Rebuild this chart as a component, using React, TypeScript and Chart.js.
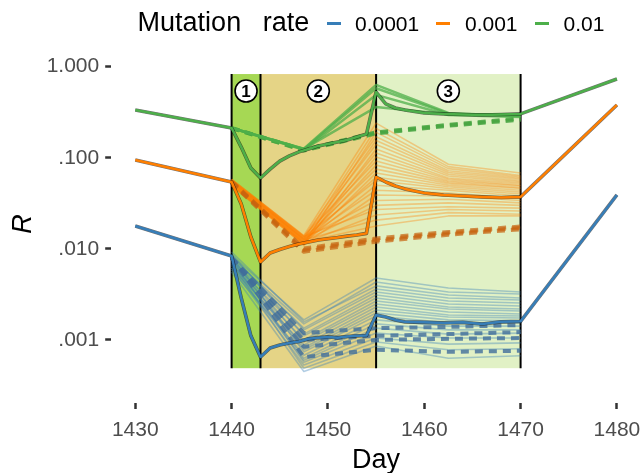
import React, { useEffect, useRef } from 'react';
import { Chart, registerables } from 'chart.js';
Chart.register(...registerables);

// ---------- data ----------
const MAIN_DAYS = [1430, 1440, 1441, 1442, 1443, 1444, 1445, 1446, 1447, 1448, 1449, 1450, 1451, 1452, 1453, 1454, 1455, 1456, 1457, 1458, 1459, 1460, 1462, 1464, 1466, 1468, 1470, 1480];
const MAIN_BLUE = [0.0178, 0.00836, 0.00289, 0.00111, 0.00065, 0.000816, 0.000881, 0.000927, 0.000963, 0.00103, 0.00106, 0.00108, 0.00106, 0.00109, 0.00111, 0.00112, 0.00188, 0.00179, 0.00166, 0.00158, 0.00157, 0.00156, 0.00154, 0.00156, 0.0015, 0.00158, 0.0016, 0.0391];
const MAIN_ORANGE = [0.0946, 0.0542, 0.0311, 0.0135, 0.00718, 0.009, 0.00985, 0.0106, 0.0113, 0.0119, 0.0125, 0.0129, 0.0133, 0.0138, 0.0142, 0.0148, 0.0615, 0.0542, 0.049, 0.0455, 0.0432, 0.0411, 0.0391, 0.0381, 0.0372, 0.0367, 0.0372, 0.38];
const MAIN_GREEN = [0.335, 0.212, 0.131, 0.077, 0.06, 0.075, 0.092, 0.105, 0.116, 0.125, 0.135, 0.142, 0.149, 0.157, 0.169, 0.182, 0.527, 0.39, 0.352, 0.335, 0.322, 0.31, 0.303, 0.299, 0.295, 0.299, 0.303, 0.733];

const TRAJ_DAYS = [1440, 1447.5, 1455, 1462.5, 1470];

const FAINT_BLUE = [
  [0.00857, 0.00166, 0.00479, 0.00372, 0.00336],
  [0.00795, 0.0015, 0.00433, 0.00336, 0.0032],
  [0.00925, 0.00158, 0.00392, 0.00312, 0.00289],
  [0.00755, 0.00135, 0.00363, 0.00289, 0.00275],
  [0.00836, 0.00129, 0.00336, 0.00268, 0.00255],
  [0.00718, 0.00116, 0.00312, 0.00248, 0.00236],
  [0.00879, 0.00111, 0.00289, 0.0023, 0.00219],
  [0.00665, 0.001, 0.00268, 0.00219, 0.00208],
  [0.00795, 0.00095, 0.00248, 0.00203, 0.00193],
  [0.00617, 0.00088, 0.0023, 0.00188, 0.00183],
  [0.00755, 0.00082, 0.00213, 0.00179, 0.00174],
  [0.00683, 0.00078, 0.00198, 0.00166, 0.00162],
  [0.00815, 0.00074, 0.00183, 0.00154, 0.00154],
  [0.00587, 0.00068, 0.00166, 0.00142, 0.00142],
  [0.00718, 0.00063, 0.0015, 0.00129, 0.00129],
  [0.00649, 0.0006, 0.00135, 0.00116, 0.00119],
  [0.00774, 0.00057, 0.00119, 0.00105, 0.00105],
  [0.00617, 0.00053, 0.00105, 0.0009, 0.00093],
  [0.007, 0.00049, 0.00095, 0.00078, 0.0008],
  [0.00558, 0.00045, 0.00086, 0.00063, 0.00067],
];

const FAINT_ORANGE = [
  [0.058, 0.014, 0.24, 0.085, 0.068],
  [0.055, 0.0128, 0.21, 0.08, 0.064],
  [0.049, 0.0112, 0.19, 0.076, 0.062],
  [0.057, 0.0136, 0.17, 0.072, 0.06],
  [0.052, 0.0118, 0.155, 0.069, 0.058],
  [0.056, 0.0132, 0.14, 0.066, 0.056],
  [0.05, 0.011, 0.125, 0.063, 0.054],
  [0.055, 0.0126, 0.113, 0.06, 0.052],
  [0.051, 0.0116, 0.102, 0.058, 0.05],
  [0.058, 0.0138, 0.092, 0.056, 0.049],
  [0.053, 0.012, 0.083, 0.054, 0.047],
  [0.056, 0.013, 0.075, 0.052, 0.046],
  [0.05, 0.0114, 0.068, 0.05, 0.044],
  [0.054, 0.0124, 0.061, 0.048, 0.042],
  [0.057, 0.0134, 0.056, 0.046, 0.04],
  [0.051, 0.0117, 0.05, 0.044, 0.038],
  [0.055, 0.0127, 0.044, 0.041, 0.036],
  [0.049, 0.0111, 0.039, 0.038, 0.034],
  [0.056, 0.0129, 0.034, 0.035, 0.032],
  [0.053, 0.0122, 0.03, 0.032, 0.03],
  [0.058, 0.0137, 0.027, 0.029, 0.028],
  [0.05, 0.0115, 0.0235, 0.027, 0.026],
  [0.055, 0.0125, 0.0207, 0.025, 0.024],
  [0.052, 0.0119, 0.0178, 0.023, 0.023],
];

const DASHED_BLUE = [
  [0.00795, 0.00119, 0.00135, 0.00139, 0.00146],
  [0.00795, 0.001, 0.00111, 0.00116, 0.00122],
  [0.00795, 0.00084, 0.001, 0.00103, 0.00105],
  [0.00795, 0.00065, 0.00078, 0.00074, 0.00076],
];
const DASHED_ORANGE = [
  [0.054, 0.0097, 0.0125, 0.0148, 0.017],
  [0.053, 0.0093, 0.012, 0.0143, 0.0164],
  [0.055, 0.0101, 0.013, 0.0153, 0.0176],
];
const DASHED_GREEN = [
  [0.212, 0.122, 0.19, 0.23, 0.27],
  [0.212, 0.12, 0.185, 0.225, 0.262],
];
const SEMI_GREEN = [
  [0.212, 0.126, 0.63, 0.31, 0.285],
  [0.212, 0.124, 0.58, 0.305, 0.29],
  [0.212, 0.122, 0.49, 0.295, 0.28],
  [0.212, 0.125, 0.36, 0.3, 0.3],
];

const X_TICKS = [1430, 1440, 1450, 1460, 1470, 1480];
const Y_TICKS = [0.001, 0.01, 0.1, 1];
const Y_TICK_LABELS = ['.001', '.010', '.100', '1.000'];
const PHASE_BOUNDS = [1440, 1443, 1455, 1470];
const PHASE_LABELS = ['1', '2', '3'];
const SHADE_MIN = 0.00049;
const SHADE_MAX = 0.83;
const PHASE_LABEL_Y = 0.54;
const LEGEND_TITLE = ['Mutation', 'rate'];
const LEGEND_LABELS = ['0.0001', '0.001', '0.01'];

// ---------- styles ----------
const BLUE = '#377EB8';
const ORANGE = '#FF7F00';
const GREEN = '#4DAF4A';
const PHASE_COLORS = ['#a6d854', '#e5d486', '#e1f1c5'];
const FONT = '"Liberation Sans", Arial, Helvetica, sans-serif';

const pts = (days: number[], vals: number[]) => days.map((d, i) => ({ x: d, y: vals[i] }));

const phasePlugin = {
  id: 'phases',
  beforeDatasetsDraw(chart: any) {
    const { ctx, scales } = chart;
    const xs = scales.x, ys = scales.y;
    const yTop = ys.getPixelForValue(SHADE_MAX);
    const yBot = ys.getPixelForValue(SHADE_MIN);
    ctx.save();
    for (let i = 0; i < PHASE_BOUNDS.length - 1; i++) {
      const x0 = xs.getPixelForValue(PHASE_BOUNDS[i]);
      const x1 = xs.getPixelForValue(PHASE_BOUNDS[i + 1]);
      ctx.fillStyle = PHASE_COLORS[i];
      ctx.fillRect(x0, yTop, x1 - x0, yBot - yTop);
    }
    ctx.strokeStyle = '#000';
    ctx.lineWidth = 2;
    for (const b of PHASE_BOUNDS) {
      const x = xs.getPixelForValue(b);
      ctx.beginPath();
      ctx.moveTo(x, yTop);
      ctx.lineTo(x, yBot);
      ctx.stroke();
    }
    ctx.restore();
  },
  afterDatasetsDraw(chart: any) {
    const { ctx, scales } = chart;
    const xs = scales.x, ys = scales.y;
    const y = ys.getPixelForValue(PHASE_LABEL_Y);
    ctx.save();
    for (let i = 0; i < PHASE_LABELS.length; i++) {
      const x = xs.getPixelForValue((PHASE_BOUNDS[i] + PHASE_BOUNDS[i + 1]) / 2);
      ctx.beginPath();
      ctx.arc(x, y, 11, 0, Math.PI * 2);
      ctx.fillStyle = '#fff';
      ctx.fill();
      ctx.lineWidth = 1.6;
      ctx.strokeStyle = '#000';
      ctx.stroke();
      ctx.fillStyle = '#000';
      ctx.font = `bold 17px ${FONT}`;
      ctx.textAlign = 'center';
      ctx.textBaseline = 'middle';
      ctx.fillText(PHASE_LABELS[i], x, y + 1);
    }
    ctx.restore();
  },
};

export default function App() {
  const ref = useRef<HTMLCanvasElement>(null);
  useEffect(() => {
    const canvas = ref.current!;
    const datasets: any[] = [];
    const base = { pointRadius: 0, fill: false, tension: 0, borderJoinStyle: 'round', borderCapStyle: 'butt' };
    FAINT_BLUE.forEach((v) => datasets.push({ ...base, data: pts(TRAJ_DAYS, v), borderColor: 'rgba(55,126,184,0.38)', borderWidth: 1.6, order: 10 }));
    FAINT_ORANGE.forEach((v) => datasets.push({ ...base, data: pts(TRAJ_DAYS, v), borderColor: 'rgba(255,127,0,0.36)', borderWidth: 1.6, order: 10 }));
    DASHED_BLUE.forEach((v) => datasets.push({ ...base, data: pts(TRAJ_DAYS, v), borderColor: 'rgba(65,110,155,0.8)', borderWidth: 4, borderDash: [8, 6], order: 8 }));
    DASHED_ORANGE.forEach((v) => datasets.push({ ...base, data: pts(TRAJ_DAYS, v), borderColor: 'rgba(200,100,15,0.7)', borderWidth: 4, borderDash: [8, 6], order: 8 }));
    DASHED_GREEN.forEach((v) => datasets.push({ ...base, data: pts(TRAJ_DAYS, v), borderColor: 'rgba(70,165,65,0.85)', borderWidth: 4, borderDash: [8, 6], order: 8 }));
    SEMI_GREEN.forEach((v) => datasets.push({ ...base, data: pts(TRAJ_DAYS, v), borderColor: 'rgba(77,175,74,0.75)', borderWidth: 2.5, order: 6 }));
    [MAIN_BLUE, MAIN_ORANGE, MAIN_GREEN].forEach((v) => datasets.push({ ...base, data: pts(MAIN_DAYS, v), borderColor: 'rgba(0,0,0,0.55)', borderWidth: 3.6, order: 2 }));
    [[MAIN_BLUE, BLUE], [MAIN_ORANGE, ORANGE], [MAIN_GREEN, GREEN]].forEach(([v, c]: any) => datasets.push({ ...base, data: pts(MAIN_DAYS, v), borderColor: c, borderWidth: 2.5, order: 1 }));

    const chart = new Chart(canvas, {
      type: 'line',
      data: { datasets },
      plugins: [phasePlugin],
      options: {
        animation: false,
        responsive: false,
        devicePixelRatio: 1,
        layout: { padding: { left: 0, top: 45, right: 3, bottom: 0 } },
        plugins: { legend: { display: false }, tooltip: { enabled: false } },
        scales: {
          x: {
            type: 'linear',
            min: 1427.5,
            max: 1482.5,
            afterBuildTicks: (s: any) => { s.ticks = X_TICKS.map((v) => ({ value: v })); },
            afterFit: (s: any) => { s.height = 70; s.paddingLeft = 0; s.paddingRight = 0; },
            grid: { display: true, drawOnChartArea: false, drawTicks: true, tickLength: 6, tickWidth: 2.5, tickColor: '#333333' },
            border: { display: false },
            ticks: { autoSkip: false, maxRotation: 0, padding: 9, color: '#4d4d4d', font: { family: FONT, size: 21 }, callback: (v: any) => String(v) },
            title: { display: true, text: 'Day', color: '#000', font: { family: FONT, size: 27 }, padding: { top: 0, bottom: -4 } },
          },
          y: {
            type: 'logarithmic',
            min: Math.pow(10, -3.692),
            max: Math.pow(10, 0.238),
            afterBuildTicks: (s: any) => { s.ticks = Y_TICKS.map((v) => ({ value: v })); },
            afterFit: (s: any) => { s.width = 111.2; s.paddingTop = 0; s.paddingBottom = 0; },
            grid: { display: true, drawOnChartArea: false, drawTicks: true, tickLength: 6, tickWidth: 2.5, tickColor: '#333333' },
            border: { display: false },
            ticks: { autoSkip: false, padding: 6, color: '#4d4d4d', font: { family: FONT, size: 21 }, callback: (_v: any, i: number) => Y_TICK_LABELS[i] },
            title: { display: true, text: 'R', color: '#000', font: { family: FONT, size: 27, style: 'italic' }, padding: { top: 7, bottom: 0 } },
          },
        },
      } as any,
    });
    return () => chart.destroy();
  }, []);

  const legendItems = [
    { seg: 326.5, text: 355, color: BLUE },
    { seg: 436, text: 465, color: ORANGE },
    { seg: 535, text: 563.5, color: GREEN },
  ];
  return (
    <div style={{ position: 'fixed', left: 0, top: 0, width: 644, height: 473, background: '#fff', fontFamily: FONT, overflow: 'hidden' }}>
      <canvas ref={ref} width={644} height={473} style={{ position: 'absolute', left: 0, top: 0, width: 644, height: 473 }} />
      <div style={{ position: 'absolute', left: 137.6, top: 9, fontSize: 27, lineHeight: '27px', color: '#000', whiteSpace: 'nowrap' }}>{LEGEND_TITLE[0]}</div>
      <div style={{ position: 'absolute', left: 262.8, top: 9, fontSize: 27, lineHeight: '27px', color: '#000', whiteSpace: 'nowrap' }}>{LEGEND_TITLE[1]}</div>
      {legendItems.map((it, i) => (
        <React.Fragment key={i}>
          <div style={{ position: 'absolute', left: it.seg, top: 21.5, width: 14, height: 3, background: it.color }} />
          <div style={{ position: 'absolute', left: it.text, top: 13, fontSize: 21, lineHeight: '21px', color: '#000', whiteSpace: 'nowrap' }}>{LEGEND_LABELS[i]}</div>
        </React.Fragment>
      ))}
    </div>
  );
}
